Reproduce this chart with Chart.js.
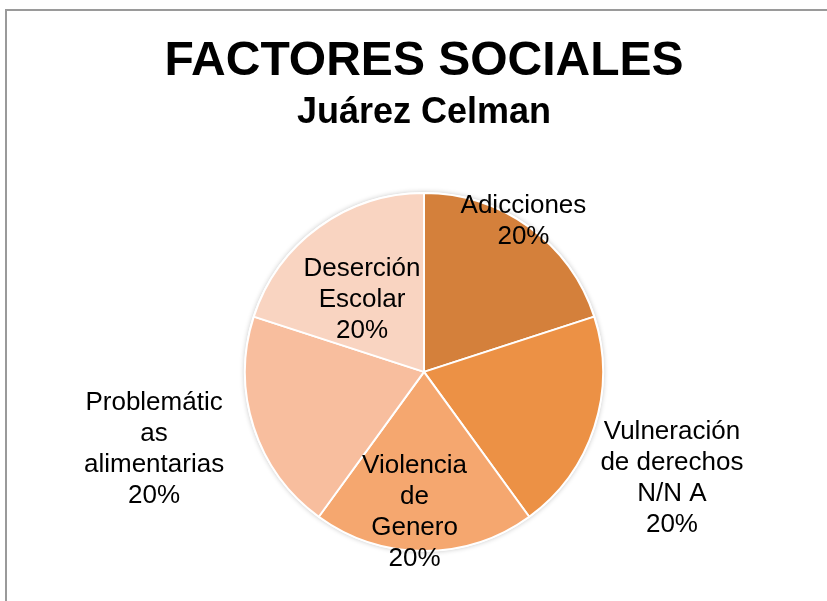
<!DOCTYPE html>
<html>
<head>
<meta charset="utf-8">
<script src="https://cdn.jsdelivr.net/npm/chart.js@4"></script>
<style>
  html, body { margin: 0; padding: 0; background: #ffffff; }
  #c { display: block; }
</style>
</head>
<body>
<canvas id="c" width="827" height="601"></canvas>
<script>
// ---- data ----
const categories = [
  ["Adicciones"],
  ["Vulneración", "de derechos", "N/N A"],
  ["Violencia", "de", "Genero"],
  ["Problemátic", "as", "alimentarias"],
  ["Deserción", "Escolar"]
];
const values = [20, 20, 20, 20, 20];
const titleText = "FACTORES SOCIALES";
const subtitleText = "Juárez Celman";

// ---- styling ----
const sliceColors = ["#D4803B", "#EC9145", "#F5A76F", "#F8BE9E", "#F9D4C1"];
// label placement relative to each slice: radius factor and angle offset (deg)
const labelPlacement = [
  { f: 1.02,  off: -3 },
  { f: 1.502, off: 4.75 },
  { f: 0.776, off: 3.9 },
  { f: 1.565, off: 2.5 },
  { f: 0.539, off: -4 }
];
const FONT = "'Liberation Sans', Arial, Helvetica, sans-serif";

const framePlugin = {
  id: 'frame',
  beforeDraw(chart) {
    const ctx = chart.ctx;
    ctx.save();
    ctx.fillStyle = '#ffffff';
    ctx.fillRect(0, 0, chart.width, chart.height);
    ctx.strokeStyle = '#9a9a9a';
    ctx.lineWidth = 2;
    ctx.strokeRect(6, 10, chart.width + 50, chart.height + 50);
    ctx.restore();
  }
};

const shadowPlugin = {
  id: 'pieShadow',
  beforeDatasetsDraw(chart) {
    const arc = chart.getDatasetMeta(0).data[0];
    if (!arc) return;
    const p = arc.getProps(['x', 'y', 'outerRadius'], true);
    const ctx = chart.ctx;
    ctx.save();
    ctx.shadowColor = 'rgba(0,0,0,0.22)';
    ctx.shadowBlur = 5;
    ctx.beginPath();
    ctx.arc(p.x, p.y, p.outerRadius + 1, 0, Math.PI * 2);
    ctx.fillStyle = '#ffffff';
    ctx.fill();
    ctx.restore();
  }
};

const labelPlugin = {
  id: 'sliceLabels',
  afterDatasetsDraw(chart) {
    const meta = chart.getDatasetMeta(0);
    const ds = chart.data.datasets[0].data;
    const total = ds.reduce((a, b) => a + b, 0);
    const ctx = chart.ctx;
    const fs = 26, lh = 31, capH = fs * 0.716;
    ctx.save();
    ctx.font = fs + 'px ' + FONT;
    ctx.fillStyle = '#000000';
    ctx.textAlign = 'center';
    ctx.textBaseline = 'alphabetic';
    meta.data.forEach((arc, i) => {
      const p = arc.getProps(['x', 'y', 'startAngle', 'endAngle', 'outerRadius'], true);
      const pl = labelPlacement[i];
      const a = (p.startAngle + p.endAngle) / 2 + pl.off * Math.PI / 180;
      const cx = p.x + Math.cos(a) * pl.f * p.outerRadius;
      const cy = p.y + Math.sin(a) * pl.f * p.outerRadius;
      const lines = chart.data.labels[i].concat([Math.round(ds[i] / total * 100) + '%']);
      const blockH = (lines.length - 1) * lh + capH;
      const firstBase = cy - blockH / 2 + capH;
      lines.forEach((t, k) => ctx.fillText(t, cx, firstBase + k * lh));
    });
    ctx.restore();
  }
};

new Chart(document.getElementById('c'), {
  type: 'pie',
  data: {
    labels: categories,
    datasets: [{
      data: values,
      backgroundColor: sliceColors,
      borderColor: '#ffffff',
      borderWidth: 2
    }]
  },
  options: {
    responsive: false,
    animation: false,
    radius: 179,
    layout: { padding: { top: 0, bottom: 47, left: 21, right: 0 } },
    plugins: {
      legend: { display: false },
      tooltip: { enabled: false },
      title: {
        display: true,
        text: titleText,
        color: '#000000',
        font: { family: FONT, size: 48, weight: 'bold', lineHeight: 1.2 },
        padding: { top: 33, bottom: 0 }
      },
      subtitle: {
        display: true,
        text: subtitleText,
        color: '#000000',
        font: { family: FONT, size: 36, weight: 'bold', lineHeight: 1.2 },
        padding: { top: 1, bottom: 55 }
      }
    }
  },
  plugins: [framePlugin, shadowPlugin, labelPlugin]
});
</script>
</body>
</html>
